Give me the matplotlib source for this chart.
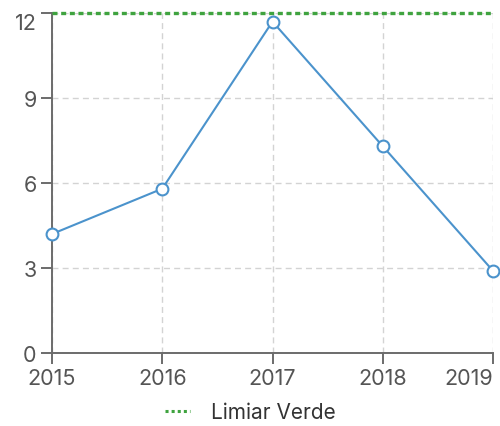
import matplotlib.pyplot as plt
from matplotlib.lines import Line2D

plt.rcParams['font.family'] = ['Inter', 'DejaVu Sans']

years = [2015, 2016, 2017, 2018, 2019]
values = [4.2, 5.8, 11.7, 7.3, 2.9]
threshold = 12
threshold_label = 'Limiar Verde'
y_ticks = [0, 3, 6, 9, 12]

LINE_COLOR = '#4b93cc'
GREEN = '#3fa33f'
AXIS_COLOR = '#6b6b6b'
TEXT_COLOR = '#555555'

fig = plt.figure(figsize=(5, 4.27), dpi=100)
ax = fig.add_axes([0.104, 0.171, 0.882, 0.796])

ax.plot(years, values, color=LINE_COLOR, lw=1.5, marker='o', markersize=8.5,
        markerfacecolor='white', markeredgecolor=LINE_COLOR, markeredgewidth=1.5,
        zorder=4, clip_on=False)

ax.axhline(threshold, color=GREEN, lw=2.4, ls=(0, (1.5, 1.1)), zorder=3, clip_on=False)

ax.set_xlim(years[0], years[-1])
ax.set_ylim(0, 12)
ax.set_xticks(years)
ax.set_yticks(y_ticks)
ax.grid(True, color='#d3d3d3', ls=(0, (4.3, 3)), lw=1)
ax.set_axisbelow(True)

for s in ['top', 'right']:
    ax.spines[s].set_visible(False)
for s in ['left', 'bottom']:
    ax.spines[s].set_color(AXIS_COLOR)
    ax.spines[s].set_linewidth(1.4)

ax.tick_params(colors=AXIS_COLOR, labelcolor=TEXT_COLOR, labelsize=15.5,
               length=8, width=1.4)
ax.tick_params(axis='y', pad=3)
ax.tick_params(axis='x', pad=3)

xlabels = ax.get_xticklabels()
xlabels[-1].set_horizontalalignment('right')
xlabels[-1].set_x(years[-1])
ylabels = ax.get_yticklabels()
ylabels[-1].set_verticalalignment('top')

handle = Line2D([], [], color=GREEN, lw=2.2, ls=(0, (1, 1)))
fig.legend([handle], [threshold_label], loc='lower center',
           bbox_to_anchor=(0.5, -0.035), frameon=False, fontsize=15,
           labelcolor='#333333', handlelength=1.2, handletextpad=1.0)

fig.savefig('out.png', dpi=100)
